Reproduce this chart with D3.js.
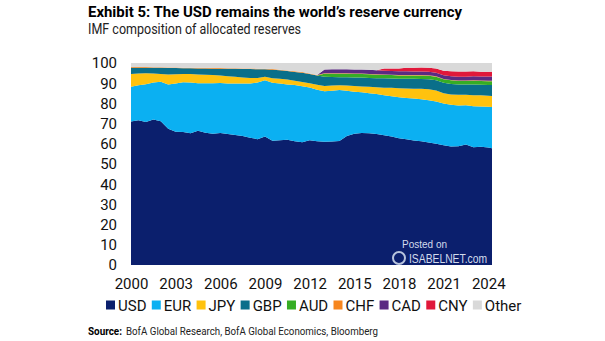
<!DOCTYPE html>
<html>
<head>
<meta charset="utf-8">
<script src="https://cdn.jsdelivr.net/npm/d3@7"></script>
<style>
  html, body { margin: 0; padding: 0; background: #fff; }
  svg { display: block; font-family: Roboto, "Open Sans", sans-serif; }
</style>
</head>
<body>
<div class="chart"></div>
<script>
// half-year readings, last point 2024 Q2
const times = [2000, 2000.5, 2001, 2001.5, 2002, 2002.5, 2003, 2003.5, 2004, 2004.5,
  2005, 2005.5, 2006, 2006.5, 2007, 2007.5, 2008, 2008.5, 2009, 2009.5,
  2010, 2010.5, 2011, 2011.5, 2012, 2012.5, 2013, 2013.5, 2014, 2014.5,
  2015, 2015.5, 2016, 2016.5, 2017, 2017.5, 2018, 2018.5, 2019, 2019.5,
  2020, 2020.5, 2021, 2021.5, 2022, 2022.5, 2023, 2023.5, 2024, 2024.25];

const usd = [71.0, 71.6, 70.8, 72.0, 71.2, 67.5, 66.0, 65.8, 65.2, 66.5,
  65.5, 65.0, 65.3, 64.8, 64.3, 63.8, 63.0, 62.3, 63.6, 61.5,
  61.8, 62.0, 61.3, 60.8, 61.8, 61.3, 61.0, 61.2, 61.4, 63.8,
  65.0, 65.4, 65.2, 64.9, 64.2, 63.6, 62.8, 62.3, 61.6, 61.3,
  60.7, 60.0, 59.3, 58.7, 58.8, 59.6, 58.3, 58.6, 58.2, 57.8];
const eur = [17.3, 17.4, 18.7, 18.3, 19.5, 21.9, 23.8, 24.7, 25.1, 23.5,
  24.5, 25.0, 24.8, 25.0, 25.5, 26.0, 26.9, 28.0, 27.9, 28.7,
  28.0, 27.4, 27.8, 27.7, 26.1, 25.5, 25.0, 25.1, 25.2, 22.5,
  20.8, 20.1, 19.8, 19.7, 19.8, 19.9, 20.2, 20.4, 20.8, 20.7,
  20.9, 21.0, 20.7, 20.6, 20.2, 19.5, 20.3, 19.9, 20.1, 20.4];
const jpy = [6.3, 5.8, 5.4, 4.5, 3.8, 4.9, 4.6, 4.1, 4.2, 4.3,
  4.2, 4.0, 3.7, 3.7, 3.4, 3.0, 2.7, 2.3, 1.7, 2.3,
  2.4, 2.4, 2.1, 2.1, 2.1, 2.4, 2.6, 2.5, 2.4, 2.6,
  2.8, 2.9, 3.2, 3.4, 3.8, 4.2, 4.5, 4.7, 4.9, 5.2,
  5.4, 5.4, 5.0, 5.1, 5.3, 5.2, 5.4, 5.5, 5.5, 5.5];
const gbp = [3.1, 2.9, 2.8, 2.8, 3.1, 3.2, 3.1, 2.8, 2.9, 3.0,
  3.1, 3.2, 3.4, 3.6, 3.9, 4.2, 4.4, 4.3, 3.7, 4.2,
  4.2, 4.2, 4.4, 4.6, 4.5, 4.6, 4.6, 4.3, 4.0, 4.0,
  4.2, 4.4, 4.4, 4.5, 4.6, 4.6, 4.7, 4.8, 4.9, 4.9,
  5.0, 5.1, 5.2, 5.2, 5.0, 5.0, 5.3, 5.2, 5.3, 5.4];
const aud = [0, 0, 0, 0, 0, 0, 0, 0, 0, 0,
  0, 0, 0, 0, 0, 0, 0, 0, 0, 0,
  0, 0, 0, 0, 0, 0, 1.5, 1.6, 1.7, 1.8,
  1.8, 1.8, 1.8, 1.7, 1.7, 1.7, 1.6, 1.6, 1.6, 1.7,
  1.7, 1.7, 1.7, 1.8, 1.8, 1.8, 1.9, 1.9, 1.9, 1.9];
const chf = [0.3, 0.3, 0.3, 0.3, 0.3, 0.3, 0.3, 0.3, 0.3, 0.3,
  0.3, 0.3, 0.3, 0.3, 0.3, 0.3, 0.3, 0.3, 0.3, 0.3,
  0.3, 0.3, 0.3, 0.3, 0.3, 0.3, 0.2, 0.2, 0.2, 0.2,
  0.2, 0.2, 0.2, 0.2, 0.2, 0.2, 0.2, 0.2, 0.2, 0.2,
  0.2, 0.2, 0.2, 0.2, 0.2, 0.2, 0.2, 0.2, 0.2, 0.2];
const cad = [0, 0, 0, 0, 0, 0, 0, 0, 0, 0,
  0, 0, 0, 0, 0, 0, 0, 0, 0, 0,
  0, 0, 0, 0, 0, 0, 1.9, 2.0, 2.0, 2.0,
  2.0, 2.0, 2.0, 2.0, 1.9, 1.9, 1.9, 1.9, 1.8, 1.8,
  1.8, 1.8, 1.8, 1.8, 1.9, 1.9, 2.0, 2.0, 2.1, 2.1];
const cny = [0, 0, 0, 0, 0, 0, 0, 0, 0, 0,
  0, 0, 0, 0, 0, 0, 0, 0, 0, 0,
  0, 0, 0, 0, 0, 0, 0, 0, 0, 0,
  0, 0, 0, 0, 1.1, 1.2, 1.4, 1.7, 1.9, 2.0,
  2.0, 2.1, 2.3, 2.5, 2.6, 2.6, 2.5, 2.4, 2.4, 2.4];
const other = [2.0, 2.0, 2.0, 2.1, 2.1, 2.2, 2.2, 2.3, 2.3, 2.4,
  2.4, 2.5, 2.5, 2.6, 2.6, 2.7, 2.7, 2.8, 2.8, 3.0,
  3.3, 3.7, 4.1, 4.5, 5.2, 5.9, 3.2, 3.1, 3.1, 3.1,
  3.2, 3.2, 3.4, 3.6, 2.7, 2.7, 2.7, 2.4, 2.3, 2.2,
  2.3, 2.7, 3.8, 4.1, 4.2, 4.2, 4.1, 4.3, 4.3, 4.3];

const currencies = ['USD', 'EUR', 'JPY', 'GBP', 'AUD', 'CHF', 'CAD', 'CNY', 'Other'];
const seriesValues = [usd, eur, jpy, gbp, aud, chf, cad, cny, other];
const yearTicks = [2000, 2003, 2006, 2009, 2012, 2015, 2018, 2021, 2024];
const valueTicks = [0, 10, 20, 30, 40, 50, 60, 70, 80, 90, 100];

const colors = ['#0b1f6d', '#0bb0f2', '#ffc20e', '#0a6f8a', '#36ad24',
  '#f7861e', '#5b2a82', '#e0183a', '#d9d9d9'];

const W = 605, H = 341;
const plot = { left: 131, right: 492, top: 63, bottom: 265 };

const rows = times.map((t, i) => {
  const r = { t };
  currencies.forEach((c, k) => { r[c] = seriesValues[k][i]; });
  return r;
});

const x = d3.scaleLinear().domain([2000, 2024.25]).range([plot.left, plot.right]);
const y = d3.scaleLinear().domain([0, 100]).range([plot.bottom, plot.top]);
const color = d3.scaleOrdinal().domain(currencies).range(colors);

const svg = d3.select('.chart')
  .append('svg')
  .attr('width', W)
  .attr('height', H);

// title block
svg.append('text')
  .attr('x', 88).attr('y', 17)
  .attr('font-size', 15).attr('font-weight', 700)
  .attr('fill', '#000')
  .attr('textLength', 374).attr('lengthAdjust', 'spacingAndGlyphs')
  .text('Exhibit 5: The USD remains the world\u2019s reserve currency');

svg.append('text')
  .attr('x', 88).attr('y', 34)
  .attr('font-size', 15)
  .attr('fill', '#222')
  .attr('textLength', 213).attr('lengthAdjust', 'spacingAndGlyphs')
  .text('IMF composition of allocated reserves');

// stacked areas
const stack = d3.stack().keys(currencies);
const layers = stack(rows);

const area = d3.area()
  .x(d => x(d.data.t))
  .y0(d => y(d[0]))
  .y1(d => y(d[1]));

svg.append('g')
  .selectAll('path')
  .data(layers)
  .join('path')
  .attr('fill', d => color(d.key))
  .attr('d', area);

// axes
const xAxis = d3.axisBottom(x)
  .tickValues(yearTicks)
  .tickFormat(d3.format('d'))
  .tickSize(0)
  .tickPadding(13);

const yAxis = d3.axisLeft(y)
  .tickValues(valueTicks)
  .tickSize(0)
  .tickPadding(14);

const gx = svg.append('g')
  .attr('transform', `translate(0, ${ plot.bottom })`)
  .call(xAxis);

const gy = svg.append('g')
  .attr('transform', `translate(${ plot.left }, 0)`)
  .call(yAxis);

[gx, gy].forEach(g => {
  g.select('.domain').remove();
  g.selectAll('text')
    .attr('font-size', 15)
    .attr('font-family', 'Roboto, sans-serif')
    .attr('fill', '#111');
});

// watermark
const wm = svg.append('g').attr('fill', '#d3dbec');
wm.append('text')
  .attr('x', 402).attr('y', 248)
  .attr('font-size', 10)
  .attr('font-family', 'Liberation Sans, Arial, sans-serif')
  .text('Posted on');
wm.append('circle')
  .attr('cx', 399).attr('cy', 258).attr('r', 6)
  .attr('fill', 'none').attr('stroke', '#b7c3dc').attr('stroke-width', 2);
wm.append('text')
  .attr('x', 409).attr('y', 263)
  .attr('font-size', 12)
  .attr('font-family', 'Liberation Sans, Arial, sans-serif')
  .attr('textLength', 78).attr('lengthAdjust', 'spacingAndGlyphs')
  .text('ISABELNET.com');

// legend
const legend = svg.append('g').attr('transform', 'translate(106, 305)');
let lx = 0;
currencies.forEach(c => {
  const item = legend.append('g').attr('transform', `translate(${ lx }, 0)`);
  item.append('rect')
    .attr('x', 0).attr('y', -4.5)
    .attr('width', 9).attr('height', 9)
    .attr('fill', color(c));
  const t = item.append('text')
    .attr('x', 12).attr('y', 5.5)
    .attr('font-size', 15)
    .attr('fill', '#111')
    .text(c);
  lx += 12 + t.node().getComputedTextLength() + 5.3;
});

// source
svg.append('text')
  .attr('x', 88).attr('y', 335)
  .attr('font-size', 11).attr('font-weight', 700)
  .attr('fill', '#000')
  .attr('textLength', 34).attr('lengthAdjust', 'spacingAndGlyphs')
  .text('Source:');
svg.append('text')
  .attr('x', 126).attr('y', 335)
  .attr('font-size', 11)
  .attr('fill', '#222')
  .attr('textLength', 252).attr('lengthAdjust', 'spacingAndGlyphs')
  .text('BofA Global Research, BofA Global Economics, Bloomberg');
</script>
</body>
</html>
